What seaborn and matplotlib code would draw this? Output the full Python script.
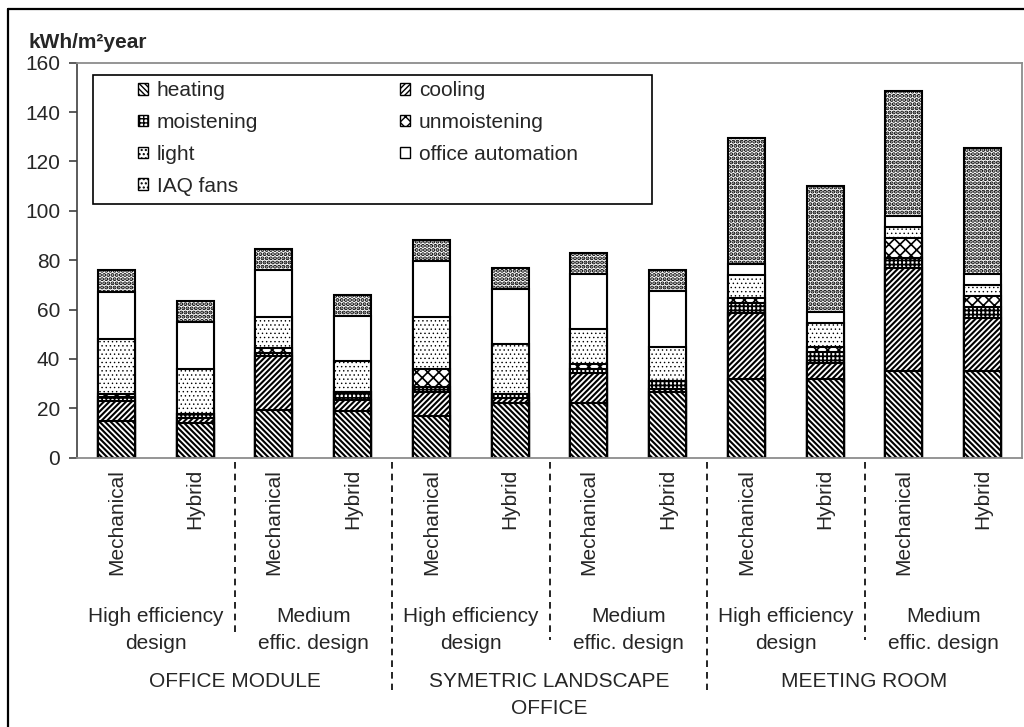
import numpy as np
import pandas as pd
import matplotlib
matplotlib.use("Agg")
import matplotlib.pyplot as plt
import matplotlib.transforms as mtransforms
from matplotlib.patches import Patch, Rectangle
from matplotlib.lines import Line2D
import seaborn as sns

# ---------------- data ----------------
bar_labels = ["Mechanical", "Hybrid"] * 6
design_labels = ["High efficiency\ndesign", "Medium\neffic. design"] * 3
building_labels = ["OFFICE MODULE", "SYMETRIC LANDSCAPE\nOFFICE", "MEETING ROOM"]

series_names = ["heating", "cooling", "moistening", "unmoistening",
                "light", "office automation", "IAQ fans"]
heating = [15, 14, 19.5, 19, 17, 22, 22, 26.5, 32, 32, 35, 35]
cooling = [8, 2, 21.5, 4.5, 9.5, 2, 12.5, 1.5, 26.5, 6.5, 42, 21.5]
moistening = [1.5, 1.5, 1.5, 3, 2, 2, 1.5, 3, 4, 4.5, 4, 4.5]
unmoistening = [1.5, 0, 2, 0, 7.5, 0, 2, 0, 2, 2, 8, 4.5]
light = [22, 18.5, 12.5, 12.5, 21, 20, 14, 14, 9.5, 9.5, 4.5, 4.5]
office_automation = [19, 19, 19, 18.5, 22.5, 22.5, 22.5, 22.5, 4.5, 4.5, 4.5, 4.5]
iaq_fans = [9, 8.5, 8.5, 8.5, 8.5, 8.5, 8.5, 8.5, 51, 51, 50.5, 51]

yticks = [0, 20, 40, 60, 80, 100, 120, 140, 160]
y_label = "kWh/m²year"

# ---------------- style ----------------
sns.set_style("white")
plt.rcParams["font.family"] = ["Liberation Sans", "DejaVu Sans"]

FS = 15
hatches = ["\\" * 6, "/" * 6, "++++", "xxx", "....", "", "...."]
hatch_lws = [1.5, 1.5, 1.3, 1.2, 0.5, 1.0, 2.0]

W, H = 1024, 727
fig = plt.figure(figsize=(W / 100, H / 100), dpi=100)
ax_l, ax_r, ax_t, ax_b = 77, 1022, 62.7, 457.7
ax = fig.add_axes([ax_l / W, 1 - ax_b / H, (ax_r - ax_l) / W, (ax_b - ax_t) / H])

ids = [f"b{i}" for i in range(len(bar_labels))]
layers = [heating, cooling, moistening, unmoistening, light, office_automation, iaq_fans]
cum = np.cumsum(np.array(layers, dtype=float), axis=0)

# draw from the top of the stack downwards so each lower segment covers the rest
for k in range(len(layers) - 1, -1, -1):
    df = pd.DataFrame({"bar": ids, "value": cum[k]})
    n0 = len(ax.patches)
    with plt.rc_context({"hatch.linewidth": hatch_lws[k]}):
        sns.barplot(data=df, x="bar", y="value", order=ids, color="white",
                    saturation=1, errorbar=None, width=0.47, hatch=hatches[k],
                    edgecolor="black", linewidth=1.5, ax=ax)
    for p in ax.patches[n0:]:
        if hasattr(p, "set_hatch_linewidth"):
            p.set_hatch_linewidth(hatch_lws[k])

ax.set_xlim(-0.5, len(ids) - 0.5)
ax.set_ylim(0, 160)
ax.set_yticks(yticks)
ax.set_yticklabels([str(v) for v in yticks], fontsize=FS)
ax.set_xticks(range(len(ids)))
ax.set_xticklabels(bar_labels, rotation=90, fontsize=FS, va="top")
ax.set_xlabel("")
ax.set_ylabel("")
ax.tick_params(axis="x", length=0, pad=8)
ax.tick_params(axis="y", length=6, width=1.2, color="#404040", pad=6, direction="out", left=True)

for side in ["top", "right", "bottom"]:
    ax.spines[side].set_color("#8c8c8c")
    ax.spines[side].set_linewidth(1.3)
ax.spines["left"].set_color("#404040")
ax.spines["left"].set_linewidth(1.2)

# ---------------- labels below axis ----------------
trans = mtransforms.blended_transform_factory(ax.transData, fig.transFigure)
for i, lab in enumerate(design_labels):
    ax.text(2 * i + 0.5, 1 - 607 / H, lab, transform=trans, ha="center", va="top",
            fontsize=FS, linespacing=1.55, multialignment="center")
for i, lab in enumerate(building_labels):
    ax.text(4 * i + 1.5, 1 - 672 / H, lab, transform=trans, ha="center", va="top",
            fontsize=FS, linespacing=1.5, multialignment="center")

# dashed separators
for xs, ybot in [(1.5, 637), (5.5, 640), (9.5, 640), (3.5, 690), (7.5, 690)]:
    ln = Line2D([xs, xs], [1 - 462 / H, 1 - ybot / H], transform=trans,
                color="black", lw=1.2, linestyle=(0, (4, 3)), clip_on=False)
    ax.add_line(ln)

# y unit label
fig.text(28 / W, 1 - 43 / H, y_label, fontsize=FS, fontweight="bold", va="center", ha="left")

# ---------------- legend ----------------
box = Rectangle((93 / W, 1 - 204 / H), (652 - 93) / W, (204 - 75) / H,
                transform=fig.transFigure, facecolor="white", edgecolor="black",
                linewidth=1.2, zorder=5)
fig.add_artist(box)

handles = []
for h, lw in zip(hatches, hatch_lws):
    with plt.rc_context({"hatch.linewidth": lw}):
        hp = Patch(facecolor="white", edgecolor="black", hatch=h, linewidth=1.0)
    handles.append(hp)
col1 = [0, 2, 4, 6]
col2 = [1, 3, 5]
leg_kw = dict(frameon=False, fontsize=FS, handlelength=0.5, handleheight=0.5,
              handletextpad=0.4, labelspacing=0.62, borderpad=0, borderaxespad=0,
              loc="upper left")
leg1 = fig.legend([handles[i] for i in col1], [series_names[i] for i in col1],
                  bbox_to_anchor=(138 / W, 1 - 81 / H), **leg_kw)
leg2 = fig.legend([handles[i] for i in col2], [series_names[i] for i in col2],
                  bbox_to_anchor=(400 / W, 1 - 81 / H), **leg_kw)
leg1.set_zorder(6)
leg2.set_zorder(6)

# figure frame (left and top edges visible)
fig.add_artist(Line2D([8 / W, 8 / W], [0, 1 - 9 / H], transform=fig.transFigure,
                      color="black", lw=1.6))
fig.add_artist(Line2D([8 / W, 1], [1 - 9 / H, 1 - 9 / H], transform=fig.transFigure,
                      color="black", lw=1.6))

fig.savefig("out.png", dpi=100, facecolor="white")
